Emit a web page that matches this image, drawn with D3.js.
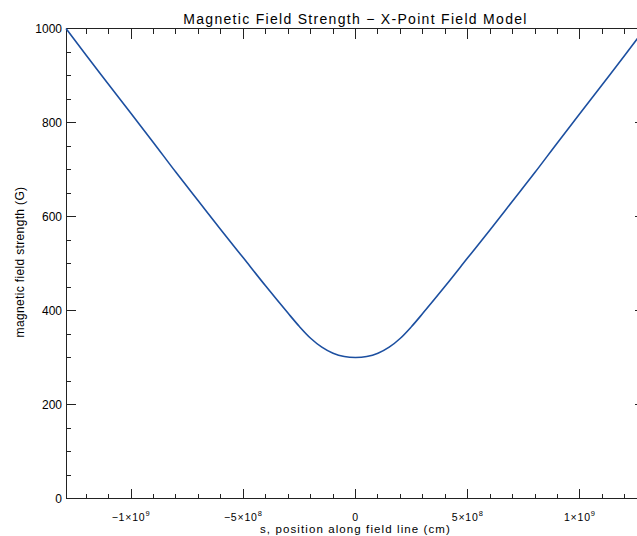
<!DOCTYPE html>
<html><head><meta charset="utf-8">
<script src="https://cdn.jsdelivr.net/npm/d3@7"></script>
<style>body{margin:0;background:#fff}svg{display:block}text{font-family:"Liberation Sans",Arial,sans-serif;fill:#000}</style>
</head><body>
<script>
// position along field line (cm)
const sPos = [-1.29e9,-1.2e9,-1.1e9,-1.0e9,-9e8,-8e8,-7e8,-6e8,-5e8,-4e8,-3e8,-2.5e8,-2e8,-1.5e8,-1e8,-5e7,0,5e7,1e8,1.5e8,2e8,2.5e8,3e8,4e8,5e8,6e8,7e8,8e8,9e8,1.0e9,1.1e9,1.2e9,1.29e9];
// magnetic field strength (G)
const bField = [1000,943,881,819,757,694,633,572,512,452,394,366,341,322,309,302,300,302,309,322,341,366,394,452,512,572,633,694,757,819,881,943,1000];
const xTickVals = [-1e9,-5e8,0,5e8,1e9];
const xTickLabels = ["\u22121\u00d710^9","\u22125\u00d710^8","0","5\u00d710^8","1\u00d710^9"];
const yTickVals = [0,200,400,600,800,1000];
const title = "Magnetic Field Strength \u2212 X-Point Field Model";
const xTitle = "s, position along field line (cm)";
const yTitle = "magnetic field strength (G)";

const W=637,H=536, L=66, R=645, T=28.5, B=498.5;
const svg=d3.select("body").append("svg").attr("width",W).attr("height",H);
const x=d3.scaleLinear().domain([-1.29e9,1.29e9]).range([L,R]);
const y=d3.scaleLinear().domain([0,1000]).range([B,T]);
const ax="#222";
const minorX=d3.range(-12e8,12.01e8,1e8).filter(v=>Math.abs(v%5e8)>1);
const minorY=d3.range(0,1001,50).filter(v=>v%200!==0);

const g=svg.append("g").attr("stroke",ax).attr("stroke-width",1).attr("shape-rendering","crispEdges");
g.append("rect").attr("x",L).attr("y",T).attr("width",R-L).attr("height",B-T).attr("fill","none");
xTickVals.forEach(v=>{g.append("line").attr("x1",x(v)).attr("x2",x(v)).attr("y1",B).attr("y2",B-10);
 g.append("line").attr("x1",x(v)).attr("x2",x(v)).attr("y1",T).attr("y2",T+10);});
minorX.forEach(v=>{g.append("line").attr("x1",x(v)).attr("x2",x(v)).attr("y1",B).attr("y2",B-5);
 g.append("line").attr("x1",x(v)).attr("x2",x(v)).attr("y1",T).attr("y2",T+5);});
yTickVals.forEach(v=>{g.append("line").attr("y1",y(v)).attr("y2",y(v)).attr("x1",L).attr("x2",L+10);
 g.append("line").attr("y1",y(v)).attr("y2",y(v)).attr("x1",R).attr("x2",R-10);});
minorY.forEach(v=>{g.append("line").attr("y1",y(v)).attr("y2",y(v)).attr("x1",L).attr("x2",L+5);
 g.append("line").attr("y1",y(v)).attr("y2",y(v)).attr("x1",R).attr("x2",R-5);});

xTickVals.forEach((v,i)=>{
  const parts=xTickLabels[i].split("^");
  const t=svg.append("text").attr("x",x(v)).attr("y",B+22).attr("text-anchor","middle").attr("font-size",10.5).attr("letter-spacing",0.8);
  t.append("tspan").text(parts[0]);
  if(parts[1]) t.append("tspan").attr("dy",-5).attr("font-size",7.5).text(parts[1]);
});
yTickVals.forEach(v=>{
  svg.append("text").attr("x",L-4).attr("y",y(v)+4).attr("text-anchor","end").attr("font-size",12).text(v);
});
svg.append("text").attr("x",(L+R)/2).attr("y",24).attr("text-anchor","middle").attr("font-size",14).attr("letter-spacing",1.3).text(title);
svg.append("text").attr("x",(L+R)/2).attr("y",533).attr("text-anchor","middle").attr("font-size",11.5).attr("letter-spacing",1.1).text(xTitle);
svg.append("text").attr("transform","translate(24,262) rotate(-90)").attr("text-anchor","middle").attr("font-size",12).attr("letter-spacing",0.35).text(yTitle);

const data=sPos.map((s,i)=>[s,bField[i]]);
svg.append("path").datum(data).attr("fill","none").attr("stroke","#1c4fa0").attr("stroke-width",1.6)
  .attr("d",d3.line().x(d=>x(d[0])).y(d=>y(d[1])).curve(d3.curveCatmullRom));
</script>
</body></html>
